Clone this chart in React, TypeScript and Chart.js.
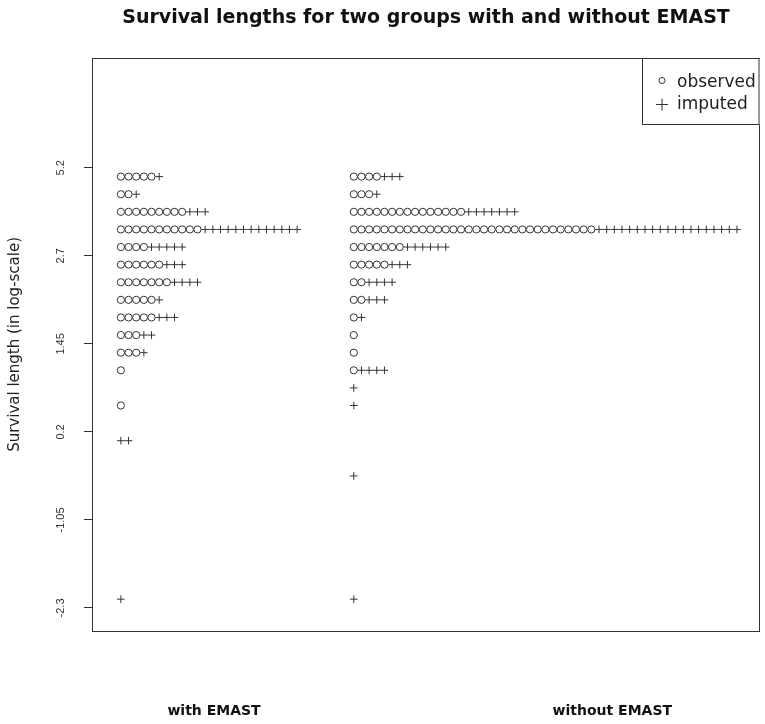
import { useEffect, useRef } from "react";
import { Chart, registerables } from "chart.js";

Chart.register(...registerables);

const TITLE = "Survival lengths for two groups with and without EMAST";
const Y_TITLE = "Survival length (in log-scale)";
const GROUPS = ["with EMAST", "without EMAST"];
const GROUP_POS = [1, 2];
const GROUP_LABEL_POS = [1.4, 3.11];
const TICK_VALUES = [-2.3, -1.05, 0.2, 1.45, 2.7, 3.95];
const TICK_LABELS = ["-2.3", "-1.05", "0.2", "1.45", "2.7", "5.2"];
const SERIES = ["observed", "imputed"];

// survival-length levels (log-scale axis units)
const LEVELS = [3.825, 3.575, 3.325, 3.075, 2.825, 2.575, 2.325, 2.075, 1.825, 1.575, 1.325, 1.075, 0.825, 0.575, 0.075, -0.425, -2.175];
// counts of cases per level
const WITH_OBSERVED = [5, 2, 9, 11, 4, 6, 7, 5, 5, 3, 3, 1, 0, 1, 0, 0, 0];
const WITH_IMPUTED = [1, 1, 3, 13, 5, 3, 4, 1, 3, 2, 1, 0, 0, 0, 2, 0, 1];
const WITHOUT_OBSERVED = [4, 3, 15, 32, 7, 5, 2, 2, 1, 1, 1, 1, 0, 0, 0, 0, 0];
const WITHOUT_IMPUTED = [3, 1, 7, 19, 6, 3, 4, 3, 1, 0, 0, 4, 1, 1, 0, 1, 1];

const STACK_STEP = 0.0329;
const INK = "#333";
const W = 765;
const H = 724;

type Pt = { x: number; y: number };

function stack(obs: number[], imp: number[], pos: number) {
  const o: Pt[] = [];
  const p: Pt[] = [];
  LEVELS.forEach((lv, i) => {
    let j = 0;
    for (let k = 0; k < obs[i]; k++, j++) o.push({ x: pos + j * STACK_STEP, y: lv });
    for (let k = 0; k < imp[i]; k++, j++) p.push({ x: pos + j * STACK_STEP, y: lv });
  });
  return { o, p };
}

const boxPlugin = {
  id: "boxPlugin",
  afterDraw(chart: any) {
    const { ctx, chartArea: a } = chart;
    ctx.save();
    ctx.strokeStyle = INK;
    ctx.lineWidth = 1;
    ctx.strokeRect(Math.round(a.left) + 0.5, Math.round(a.top) + 0.5, Math.round(a.right - a.left) - 1, Math.round(a.bottom - a.top));
    ctx.restore();
  },
};

const yLabelPlugin = {
  id: "yLabelPlugin",
  afterDraw(chart: any) {
    const s = chart.scales.y;
    const ctx = chart.ctx;
    ctx.save();
    ctx.fillStyle = INK;
    ctx.font = "11px 'Liberation Sans', Arial, sans-serif";
    ctx.textAlign = "center";
    ctx.textBaseline = "middle";
    s.ticks.forEach((t: any, i: number) => {
      const y = s.getPixelForValue(t.value);
      ctx.save();
      ctx.translate(61, y);
      ctx.rotate(-Math.PI / 2);
      ctx.fillText(t.label ?? TICK_LABELS[i], 0, 0);
      ctx.restore();
    });
    ctx.restore();
  },
};

const legendPlugin = {
  id: "legendPlugin",
  afterDraw(chart: any) {
    const { ctx, chartArea: a } = chart;
    const left = 642.5;
    const top = Math.round(a.top) + 0.5;
    ctx.save();
    ctx.fillStyle = "#fff";
    ctx.strokeStyle = INK;
    ctx.lineWidth = 1;
    ctx.fillRect(left, top, a.right - left, 66);
    ctx.strokeRect(left, top, a.right - left - 1, 66);
    const ds = chart.data.datasets;
    ctx.font = "17px 'DejaVu Sans', sans-serif";
    ctx.textBaseline = "middle";
    ctx.textAlign = "left";
    ds.forEach((d: any, i: number) => {
      const cy = top + 24 + i * 22;
      const cx = 662;
      ctx.strokeStyle = INK;
      ctx.lineWidth = 1;
      ctx.beginPath();
      if (d.pointStyle === "circle") {
        ctx.arc(cx, cy - 2, 3, 0, Math.PI * 2);
      } else {
        ctx.moveTo(cx - 6, cy);
        ctx.lineTo(cx + 6, cy);
        ctx.moveTo(cx, cy - 6);
        ctx.lineTo(cx, cy + 6);
      }
      ctx.stroke();
      ctx.fillStyle = "#222";
      ctx.fillText(d.label, 677, cy);
    });
    ctx.restore();
  },
};

export default function App() {
  const ref = useRef<HTMLCanvasElement | null>(null);

  useEffect(() => {
    if (!ref.current) return;
    Chart.defaults.font.family = "'DejaVu Sans', sans-serif";
    const g1 = stack(WITH_OBSERVED, WITH_IMPUTED, GROUP_POS[0]);
    const g2 = stack(WITHOUT_OBSERVED, WITHOUT_IMPUTED, GROUP_POS[1]);
    const chart = new Chart(ref.current, {
      type: "scatter",
      data: {
        datasets: [
          {
            label: SERIES[0],
            data: [...g1.o, ...g2.o],
            pointStyle: "circle",
            pointRadius: 3.6,
            backgroundColor: "rgba(0,0,0,0)",
            borderColor: INK,
            borderWidth: 1,
          },
          {
            label: SERIES[1],
            data: [...g1.p, ...g2.p],
            pointStyle: "cross",
            pointRadius: 3.8,
            backgroundColor: INK,
            borderColor: INK,
            borderWidth: 1,
          },
        ],
      },
      options: {
        animation: false,
        responsive: false,
        maintainAspectRatio: false,
        events: [],
        layout: { padding: { left: 0, right: 2, top: 0, bottom: 4 } },
        plugins: {
          legend: { display: false },
          tooltip: { enabled: false },
          title: {
            display: true,
            text: TITLE,
            fullSize: false,
            color: "#111",
            font: { size: 19, weight: "bold" },
            padding: { top: 7, bottom: 28 },
          },
        },
        scales: {
          x: {
            type: "linear",
            min: 0.876,
            max: 3.744,
            afterBuildTicks: (s: any) => {
              s.ticks = GROUP_LABEL_POS.map((v) => ({ value: v }));
            },
            afterFit: (s: any) => {
              s.height = 89;
            },
            ticks: {
              callback: (_v: any, i: number) => GROUPS[i],
              font: { size: 14, weight: "bold" },
              color: "#111",
              padding: 72,
              maxRotation: 0,
              autoSkip: false,
            },
            grid: { display: false, drawTicks: false },
            border: { display: false },
          },
          y: {
            type: "linear",
            min: -2.627,
            max: 5.512,
            afterBuildTicks: (s: any) => {
              s.ticks = TICK_VALUES.map((v) => ({ value: v }));
            },
            afterFit: (s: any) => {
              s.width = 92;
            },
            ticks: {
              display: false,
              callback: (_v: any, i: number) => TICK_LABELS[i],
            },
            grid: { drawOnChartArea: false, drawTicks: true, tickLength: 8, color: INK, lineWidth: 1 },
            border: { display: false },
            title: {
              display: true,
              text: Y_TITLE,
              color: "#222",
              font: { size: 15 },
              padding: { top: 6, bottom: 0 },
            },
          },
        },
      } as any,
      plugins: [boxPlugin, yLabelPlugin, legendPlugin],
    });
    return () => chart.destroy();
  }, []);

  return (
    <div style={{ position: "fixed", left: 0, top: 0, width: W, height: H, background: "#fff" }}>
      <canvas ref={ref} width={W} height={H} style={{ display: "block", width: W, height: H }} />
    </div>
  );
}
